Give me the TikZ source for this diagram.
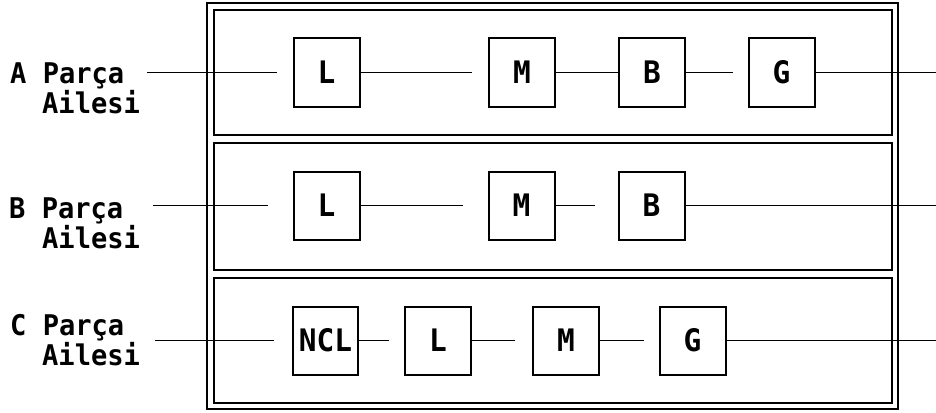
\documentclass[tikz,border=0pt]{standalone}
\usepackage{fontspec}
\newfontfamily\monofnt{DejaVu Sans Mono}[FakeStretch=0.95]
\begin{document}
\begin{tikzpicture}[x=1pt,y=-1pt,
  frame/.style={draw=black,line width=2pt},
  blk/.style={draw=black,line width=2pt,inner sep=0pt,minimum width=66pt,minimum height=68pt,
    font=\monofnt\bfseries\fontsize{31}{33}\selectfont},
  conn/.style={draw=black,line width=1.8pt},
  lbl/.style={anchor=base west,inner sep=0pt,font=\monofnt\bfseries\fontsize{28.5}{30}\selectfont}]
\useasboundingbox (0,0) rectangle (936,412);
% frames
\draw[frame] (207,3) rectangle (898,409);
\draw[frame] (214,10) rectangle (892,135);
\draw[frame] (214,143) rectangle (892,270);
\draw[frame] (214,278) rectangle (892,403);
% labels
\node[lbl] (la1) at (10,83) {A Parça};
\node[lbl] (la2) at (42,113) {Ailesi};
\node[lbl] (lb1) at (9,218) {B Parça};
\node[lbl] (lb2) at (42,248) {Ailesi};
\node[lbl] (lc1) at (10,335) {C Parça};
\node[lbl] (lc2) at (42,365) {Ailesi};
% row A
\node[blk] (LA) at (326.5,72.5) {L};
\node[blk] (MA) at (522,72.5) {M};
\node[blk] (BA) at (652,72.5) {B};
\node[blk] (GA) at (781.5,72.5) {G};
\coordinate (inA) at (147,72.5);
\coordinate (outA) at (936,72.5);
\draw[conn,shorten >=16pt] (inA) -- (LA);
\draw[conn,shorten >=16pt] (LA) -- (MA);
\draw[conn] (MA) -- (BA);
\draw[conn,shorten >=15pt] (BA) -- (GA);
\draw[conn] (GA) -- (outA);
% row B
\node[blk] (LB) at (326.5,205.5) {L};
\node[blk] (MB) at (521.5,205.5) {M};
\node[blk] (BB) at (651.5,205.5) {B};
\coordinate (inB) at (153,205.5);
\coordinate (outB) at (936,205.5);
\draw[conn,shorten >=25pt] (inB) -- (LB);
\draw[conn,shorten >=25pt] (LB) -- (MB);
\draw[conn,shorten >=23pt] (MB) -- (BB);
\draw[conn] (BB) -- (outB);
% row C
\node[blk,minimum width=65pt] (NC) at (325.5,340.5) {NCL};
\node[blk] (LC) at (438,340.5) {L};
\node[blk] (MC) at (566,340.5) {M};
\node[blk] (GC) at (692.5,340.5) {G};
\coordinate (inC) at (155,340.5);
\coordinate (outC) at (936,340.5);
\draw[conn,shorten >=18pt] (inC) -- (NC);
\draw[conn,shorten >=15pt] (NC) -- (LC);
\draw[conn,shorten >=17pt] (LC) -- (MC);
\draw[conn,shorten >=15pt] (MC) -- (GC);
\draw[conn] (GC) -- (outC);
\end{tikzpicture}
\end{document}
